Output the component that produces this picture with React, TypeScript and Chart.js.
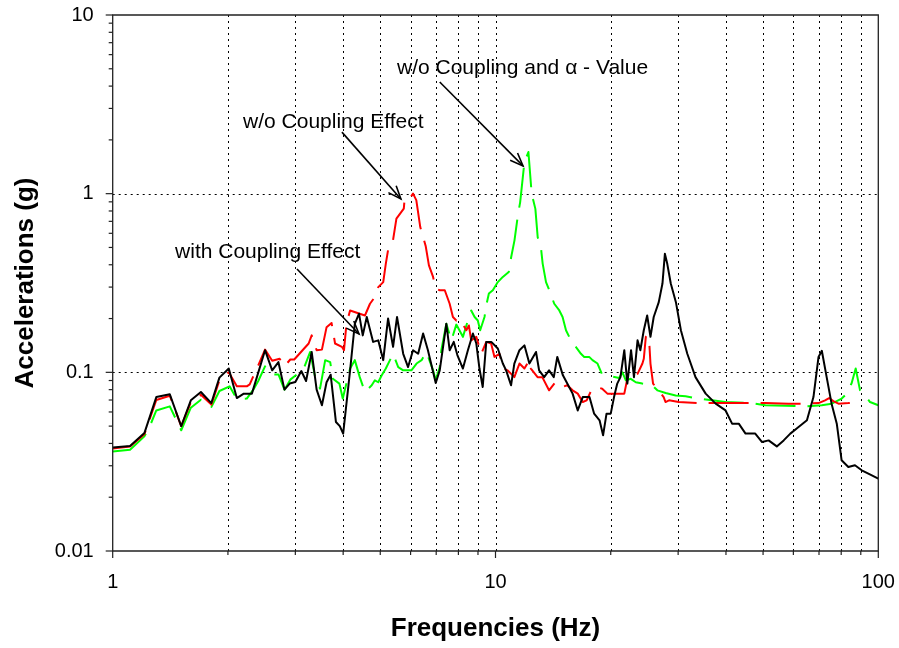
import React, { useEffect, useRef } from 'react';
import { Chart, registerables } from 'chart.js';

Chart.register(...registerables);

// ---- Data (frequency in Hz, acceleration in g) ----
const FREQ_WITH = [1.0, 1.11, 1.21, 1.3, 1.41, 1.51, 1.6, 1.7, 1.81, 1.9, 2.01, 2.11, 2.2, 2.31, 2.5, 2.61, 2.71, 2.81, 2.9, 3.0, 3.11, 3.2, 3.31, 3.41, 3.52, 3.62, 3.71, 3.83, 3.92, 4.0, 4.17, 4.29, 4.4, 4.5, 4.61, 4.79, 4.94, 5.09, 5.24, 5.4, 5.53, 5.74, 5.91, 6.09, 6.28, 6.47, 6.66, 6.98, 7.15, 7.44, 7.59, 7.78, 7.95, 8.22, 8.47, 8.73, 8.91, 9.08, 9.26, 9.46, 9.75, 10.14, 10.45, 10.66, 10.98, 11.2, 11.55, 11.9, 12.26, 12.76, 13.0, 13.4, 13.8, 14.2, 14.5, 15.0, 15.4, 15.9, 16.4, 16.9, 17.6, 18.1, 18.7, 19.1, 19.5, 20.0, 20.4, 20.8, 21.2, 21.7, 22.1, 22.6, 23.0, 23.5, 23.9, 24.4, 24.9, 25.4, 25.9, 26.7, 27.3, 27.7, 28.1, 28.7, 29.6, 30.5, 31.7, 33.3, 35.4, 37.6, 39.9, 41.5, 43.2, 45.0, 47.7, 49.7, 51.7, 54.3, 56.6, 58.9, 61.9, 65.1, 67.7, 69.8, 71.2, 73.3, 75.5, 77.9, 80.2, 83.5, 86.9, 90.5, 94.2, 100];
const ACC_WITH = [0.038, 0.0387, 0.0457, 0.0727, 0.0753, 0.0499, 0.0697, 0.0776, 0.0673, 0.0934, 0.105, 0.0718, 0.076, 0.076, 0.133, 0.1026, 0.114, 0.08, 0.0865, 0.0883, 0.1017, 0.0894, 0.13, 0.08, 0.0654, 0.088, 0.097, 0.0527, 0.05, 0.0454, 0.1026, 0.187, 0.213, 0.161, 0.204, 0.148, 0.151, 0.117, 0.2, 0.139, 0.204, 0.127, 0.107, 0.133, 0.127, 0.165, 0.133, 0.0871, 0.1026, 0.187, 0.133, 0.148, 0.125, 0.105, 0.133, 0.165, 0.145, 0.105, 0.0828, 0.148, 0.148, 0.136, 0.112, 0.1026, 0.0846, 0.112, 0.133, 0.1416, 0.112, 0.13, 0.1026, 0.094, 0.1026, 0.094, 0.122, 0.0962, 0.0865, 0.076, 0.0612, 0.0727, 0.0727, 0.0587, 0.0539, 0.0444, 0.0587, 0.0587, 0.0727, 0.0865, 0.094, 0.133, 0.0865, 0.133, 0.094, 0.151, 0.133, 0.172, 0.208, 0.158, 0.204, 0.247, 0.314, 0.461, 0.405, 0.314, 0.247, 0.172, 0.127, 0.094, 0.076, 0.0668, 0.0612, 0.0516, 0.0516, 0.0454, 0.0454, 0.0407, 0.0416, 0.0385, 0.0416, 0.0454, 0.0494, 0.0539, 0.0727, 0.122, 0.132, 0.094, 0.0668, 0.0516, 0.0322, 0.0295, 0.0302, 0.0283, 0.0271, 0.0254];

const FREQ_WO = [1.0, 1.11, 1.21, 1.3, 1.41, 1.51, 1.6, 1.7, 1.81, 1.9, 2.01, 2.11, 2.24, 2.28, 2.4, 2.5, 2.61, 2.73, 2.81, 2.91, 2.98, 3.25, 3.31, 3.41, 3.52, 3.62, 3.73, 3.81, 3.97, 4.02, 4.08, 4.17, 4.56, 4.7, 4.84, 4.94, 5.09, 5.17, 5.24, 5.38, 5.51, 5.76, 5.79, 5.85, 5.97, 6.09, 6.21, 6.36, 6.57, 6.7, 6.87, 6.98, 7.15, 7.37, 7.59, 7.74, 7.9, 8.06, 8.39, 8.52, 8.64, 8.91, 9.18, 9.46, 9.74, 9.94, 10.24, 10.45, 10.76, 11.2, 11.55, 11.9, 12.26, 12.37, 12.88, 13.25, 13.8, 14.35, 14.95, 15.4, 15.9, 16.4, 16.9, 17.3, 17.8, 18.3, 19.0, 19.6, 21.7, 22.1, 22.8, 23.5, 24.2, 24.4, 24.7, 24.9, 25.2, 25.4, 25.8, 27.5, 27.8, 28.4, 30.1, 34.0, 41.5, 50.7, 58.3, 65.1, 69.8, 72.6, 74.4, 76.3, 78.7, 83.5, 89.6];
const ACC_WO = [0.0375, 0.0385, 0.045, 0.07, 0.074, 0.05, 0.068, 0.075, 0.066, 0.09, 0.1, 0.0835, 0.0835, 0.0857, 0.1095, 0.134, 0.116, 0.119, 0.108, 0.118, 0.118, 0.145, 0.161, 0.133, 0.134, 0.179, 0.189, 0.145, 0.139, 0.133, 0.187, 0.222, 0.208, 0.242, 0.264, 0.3, 0.32, 0.406, 0.483, 0.524, 0.725, 0.825, 0.94, 0.93, 0.94, 1.0, 0.92, 0.65, 0.51, 0.397, 0.342, 0.294, 0.288, 0.288, 0.242, 0.204, 0.195, 0.2, 0.172, 0.183, 0.151, 0.158, 0.127, 0.148, 0.145, 0.122, 0.127, 0.105, 0.1026, 0.094, 0.112, 0.105, 0.117, 0.105, 0.094, 0.094, 0.0793, 0.0883, 0.0828, 0.0846, 0.0793, 0.076, 0.0682, 0.0697, 0.0793, 0.0828, 0.081, 0.076, 0.076, 0.092, 0.094, 0.098, 0.112, 0.119, 0.158, 0.161, 0.15, 0.112, 0.0865, 0.0727, 0.0682, 0.0697, 0.0682, 0.0673, 0.0673, 0.0673, 0.0668, 0.0668, 0.0673, 0.0697, 0.0718, 0.069, 0.0668, 0.0673, 0.0682];

const FREQ_WO_ALPHA = [1.0, 1.11, 1.21, 1.25, 1.3, 1.41, 1.51, 1.6, 1.7, 1.81, 1.9, 2.02, 2.11, 2.24, 2.33, 2.4, 2.5, 2.61, 2.71, 2.81, 2.91, 3.15, 3.28, 3.38, 3.48, 3.59, 3.7, 3.76, 3.91, 3.99, 4.17, 4.29, 4.42, 4.56, 4.75, 4.84, 4.94, 5.04, 5.17, 5.3, 5.4, 5.57, 5.74, 6.03, 6.22, 6.41, 6.6, 6.87, 6.98, 7.15, 7.22, 7.44, 7.67, 7.9, 8.22, 8.47, 8.64, 8.82, 8.99, 9.12, 9.36, 9.46, 9.61, 9.84, 10.14, 10.45, 10.83, 10.99, 11.21, 11.43, 11.6, 11.9, 12.19, 12.43, 12.71, 12.89, 13.15, 13.28, 13.55, 13.82, 14.24, 14.68, 14.97, 15.28, 15.58, 15.96, 16.72, 17.05, 17.57, 17.92, 18.47, 18.96, 19.49, 21.04, 21.46, 21.9, 22.56, 23.25, 24.18, 25.68, 26.47, 27.83, 29.55, 31.37, 33.98, 36.81, 39.87, 46.78, 50.69, 57.15, 65.06, 71.17, 75.56, 80.24, 82.68, 85.21, 87.28, 89.6, 92.35, 95.15, 100];
const ACC_WO_ALPHA = [0.0361, 0.0369, 0.0438, 0.0499, 0.0612, 0.0645, 0.0474, 0.0634, 0.0703, 0.064, 0.0786, 0.0835, 0.0709, 0.0713, 0.08, 0.0894, 0.108, 0.0974, 0.0974, 0.08, 0.091, 0.104, 0.13, 0.094, 0.081, 0.117, 0.114, 0.092, 0.0865, 0.0713, 0.105, 0.117, 0.094, 0.0776, 0.0846, 0.0902, 0.088, 0.096, 0.105, 0.117, 0.127, 0.107, 0.1026, 0.1026, 0.112, 0.117, 0.13, 0.1026, 0.0902, 0.107, 0.133, 0.187, 0.151, 0.185, 0.158, 0.195, 0.222, 0.204, 0.195, 0.172, 0.204, 0.237, 0.276, 0.288, 0.32, 0.342, 0.364, 0.442, 0.548, 0.746, 0.897, 1.5, 1.71, 1.0, 0.822, 0.57, 0.494, 0.406, 0.32, 0.288, 0.242, 0.222, 0.204, 0.172, 0.158, 0.145, 0.127, 0.122, 0.122, 0.117, 0.112, 0.098, 0.096, 0.093, 0.1, 0.0902, 0.092, 0.088, 0.0865, 0.0846, 0.0793, 0.0766, 0.0742, 0.0734, 0.0713, 0.0697, 0.0682, 0.0673, 0.0654, 0.065, 0.0646, 0.0654, 0.0668, 0.0713, 0.076, 0.0871, 0.105, 0.0793, 0.0742, 0.0682, 0.0654];

// ---- Axes ----
const X_TICK_VALUES = [1, 2, 3, 4, 5, 6, 7, 8, 9, 10, 20, 30, 40, 50, 60, 70, 80, 90, 100];
const Y_TICK_VALUES = [0.01, 0.02, 0.03, 0.04, 0.05, 0.06, 0.07, 0.08, 0.09, 0.1, 0.2, 0.3, 0.4, 0.5, 0.6, 0.7, 0.8, 0.9, 1, 2, 3, 4, 5, 6, 7, 8, 9, 10];
const X_LABELS = [1, 10, 100];
const Y_LABELS = [0.01, 0.1, 1, 10];
const Y_GRID = [0.1, 1];

// ---- Annotations (anchored in data space) ----
const NOTES = [
  { text: 'w/o Coupling and \u03b1 - Value', at: [5.53, 5.05], from: [7.15, 4.22], to: [11.8, 1.43] },
  { text: 'w/o Coupling Effect', at: [2.19, 2.52], from: [3.97, 2.21], to: [5.66, 0.934] },
  { text: 'with Coupling Effect', at: [1.455, 0.4716], from: [3.03, 0.379], to: [4.4, 0.164] },
];

const FONT = '"Liberation Sans", Arial, sans-serif';

const toPoints = (xs: number[], ys: number[]) => xs.map((x, i) => ({ x, y: ys[i] }));

const overlayPlugin = {
  id: 'overlay',
  beforeDatasetsDraw(chart: any) {
    const { ctx, chartArea: ca, scales } = chart;
    const xs = scales.x;
    const ys = scales.y;
    ctx.save();
    ctx.strokeStyle = '#000';
    ctx.lineWidth = 1;
    ctx.setLineDash([2, 4]);
    for (const v of X_TICK_VALUES) {
      if (v <= 1 || v >= 100) continue;
      const px = Math.round(xs.getPixelForValue(v)) + 0.5;
      ctx.beginPath();
      ctx.moveTo(px, ca.bottom);
      ctx.lineTo(px, ca.top);
      ctx.stroke();
    }
    for (const v of Y_GRID) {
      const py = Math.round(ys.getPixelForValue(v)) + 0.5;
      ctx.beginPath();
      ctx.moveTo(ca.left, py);
      ctx.lineTo(ca.right, py);
      ctx.stroke();
    }
    ctx.restore();
  },
  afterDraw(chart: any) {
    const { ctx, chartArea: ca, scales } = chart;
    const xs = scales.x;
    const ys = scales.y;
    ctx.save();
    ctx.setLineDash([]);
    // frame
    ctx.strokeStyle = '#222';
    ctx.lineWidth = 1.3;
    ctx.beginPath();
    ctx.moveTo(ca.left, ca.top);
    ctx.lineTo(ca.right, ca.top);
    ctx.lineTo(ca.right, ca.bottom);
    ctx.lineTo(ca.left, ca.bottom);
    ctx.closePath();
    ctx.stroke();
    // ticks
    ctx.lineWidth = 1.2;
    for (const v of X_TICK_VALUES) {
      const px = xs.getPixelForValue(v);
      const len = X_LABELS.includes(v) ? 7 : 4;
      ctx.beginPath();
      ctx.moveTo(px, ca.bottom);
      ctx.lineTo(px, ca.bottom + len);
      ctx.stroke();
    }
    for (const v of Y_TICK_VALUES) {
      const py = ys.getPixelForValue(v);
      const len = Y_LABELS.includes(v) ? 7 : 4;
      ctx.beginPath();
      ctx.moveTo(ca.left - len, py);
      ctx.lineTo(ca.left, py);
      ctx.stroke();
    }
    // annotations
    ctx.fillStyle = '#000';
    ctx.strokeStyle = '#000';
    ctx.font = '21px ' + FONT;
    ctx.textAlign = 'left';
    ctx.textBaseline = 'middle';
    ctx.lineWidth = 1.6;
    for (const n of NOTES) {
      const tx = xs.getPixelForValue(n.at[0]);
      const ty = ys.getPixelForValue(n.at[1]);
      ctx.fillText(n.text, tx, ty);
      const x1 = xs.getPixelForValue(n.from[0]);
      const y1 = ys.getPixelForValue(n.from[1]);
      const x2 = xs.getPixelForValue(n.to[0]);
      const y2 = ys.getPixelForValue(n.to[1]);
      ctx.beginPath();
      ctx.moveTo(x1, y1);
      ctx.lineTo(x2, y2);
      ctx.stroke();
      const ang = Math.atan2(y2 - y1, x2 - x1);
      const L = 14;
      const a = 0.38;
      ctx.beginPath();
      ctx.moveTo(x2 - L * Math.cos(ang - a), y2 - L * Math.sin(ang - a));
      ctx.lineTo(x2, y2);
      ctx.lineTo(x2 - L * Math.cos(ang + a), y2 - L * Math.sin(ang + a));
      ctx.stroke();
    }
    ctx.restore();
  },
};

export default function App() {
  const ref = useRef<HTMLCanvasElement | null>(null);

  useEffect(() => {
    if (!ref.current) return;
    const tickFont = { family: FONT, size: 20 };
    const titleFont = { family: FONT, size: 26, weight: 'bold' as const };
    const chart = new Chart(ref.current, {
      type: 'line',
      data: {
        datasets: [
          {
            label: 'with Coupling Effect',
            data: toPoints(FREQ_WITH, ACC_WITH),
            borderColor: '#000000',
            borderWidth: 2,
            pointRadius: 0,
            tension: 0,
            fill: false,
            borderJoinStyle: 'round',
          },
          {
            label: 'w/o Coupling Effect',
            data: toPoints(FREQ_WO, ACC_WO),
            borderColor: '#ff0000',
            borderWidth: 2,
            borderDash: [40, 12],
            pointRadius: 0,
            tension: 0,
            fill: false,
            borderJoinStyle: 'round',
          },
          {
            label: 'w/o Coupling and \u03b1 - Value',
            data: toPoints(FREQ_WO_ALPHA, ACC_WO_ALPHA),
            borderColor: '#00ff00',
            borderWidth: 2,
            borderDash: [40, 12],
            pointRadius: 0,
            tension: 0,
            fill: false,
            borderJoinStyle: 'round',
          },
        ],
      },
      options: {
        responsive: false,
        animation: false,
        events: [],
        layout: { padding: { top: 15, right: 20.7, bottom: 0, left: 0 } },
        plugins: { legend: { display: false }, tooltip: { enabled: false } },
        scales: {
          x: {
            type: 'logarithmic',
            min: 1,
            max: 100,
            afterBuildTicks: (s: any) => {
              s.ticks = X_TICK_VALUES.map((v) => ({ value: v }));
            },
            afterFit: (s: any) => {
              s.height = 97;
              s.paddingLeft = 0;
              s.paddingRight = 0;
              s.paddingTop = 0;
              s.paddingBottom = 0;
            },
            grid: { display: false, drawTicks: false },
            border: { display: false },
            ticks: {
              autoSkip: false,
              maxRotation: 0,
              padding: 19,
              color: '#000',
              font: tickFont,
              callback: (v: any) => (X_LABELS.includes(Number(v)) ? String(v) : ''),
            },
            title: {
              display: true,
              text: 'Frequencies (Hz)',
              color: '#000',
              font: titleFont,
              padding: { top: 0, bottom: 4 },
            },
          },
          y: {
            type: 'logarithmic',
            min: 0.01,
            max: 10,
            afterBuildTicks: (s: any) => {
              s.ticks = Y_TICK_VALUES.map((v) => ({ value: v }));
            },
            afterFit: (s: any) => {
              s.width = 112.7;
              s.paddingLeft = 0;
              s.paddingRight = 0;
              s.paddingTop = 0;
              s.paddingBottom = 0;
            },
            grid: { display: false, drawTicks: false },
            border: { display: false },
            ticks: {
              autoSkip: false,
              padding: 19,
              color: '#000',
              font: tickFont,
              callback: (v: any) => (Y_LABELS.includes(Number(v)) ? String(v) : ''),
            },
            title: {
              display: true,
              text: 'Accelerations (g)',
              color: '#000',
              font: titleFont,
              padding: { top: 10, bottom: 0 },
            },
          },
        },
      },
      plugins: [overlayPlugin],
    } as any);
    return () => chart.destroy();
  }, []);

  return (
    <div style={{ position: 'fixed', left: 0, top: 0, width: 899, height: 648, background: '#fff' }}>
      <canvas ref={ref} width={899} height={648} style={{ display: 'block' }} />
    </div>
  );
}
